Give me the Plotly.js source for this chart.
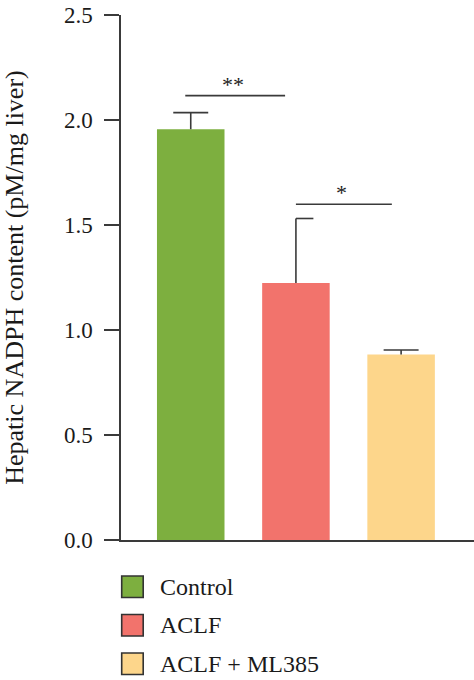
<!DOCTYPE html>
<html>
<head>
<meta charset="utf-8">
<script src="https://cdn.plot.ly/plotly-3.0.1.min.js"></script>
<style>html,body{margin:0;padding:0;background:#fff;}#chart{width:474px;height:680px;}</style>
</head>
<body>
<div id="chart"></div>
<script>
// ---- data ----
const categories = ['Control', 'ACLF', 'ACLF + ML385'];
const values = [1.956, 1.224, 0.883];
const errors = [0.079, 0.307, 0.022];
const barColors = ['#7DAF3F', '#F2736C', '#FDD68B'];
const yTickValues = [0, 0.5, 1.0, 1.5, 2.0, 2.5];
const yTitle = 'Hepatic NADPH content (pM/mg liver)';
const sigPairs = [[0, 1], [1, 2]];
const sigLabels = ['**', '*'];
const sigHeights = [2.116, 1.599];

// ---- layout helpers (pixels) ----
const W = 474, H = 680;
const M = {l: 121, r: 0, t: 15, b: 140};
const plotW = W - M.l - M.r, plotH = H - M.t - M.b;
const fontFam = 'Liberation Serif';
const ink = '#3a3a3a';
const unitPx = 105.3;            // px per category step
const capU = 17.5 / unitPx;      // half cap width in category units
const capSides = [[-1, 1], [0, 1], [-1, 1]]; // middle bar has a one-sided cap

const traces = [{
  type: 'bar',
  x: categories,
  y: values,
  marker: {color: barColors, line: {width: 0}},
  showlegend: false,
  hoverinfo: 'x+y'
}];

const shapes = [];
const annotations = [];

// error bars (upper only) drawn on the data axes
values.forEach((v, i) => {
  const top = v + errors[i];
  shapes.push({type: 'line', xref: 'x', yref: 'y', x0: i, x1: i, y0: v, y1: top,
    line: {color: ink, width: 1.6}});
  shapes.push({type: 'line', xref: 'x', yref: 'y',
    x0: i + capSides[i][0] * capU, x1: i + capSides[i][1] * capU, y0: top, y1: top,
    line: {color: ink, width: 1.6}});
});

// significance brackets
const bracketOffsets = [[-0.052, -0.103], [0.0, -0.088]];
sigPairs.forEach((p, k) => {
  const xa = p[0] + bracketOffsets[k][0];
  const xb = p[1] + bracketOffsets[k][1];
  shapes.push({type: 'line', xref: 'x', yref: 'y', x0: xa, x1: xb,
    y0: sigHeights[k], y1: sigHeights[k], line: {color: ink, width: 1.6}});
  annotations.push({xref: 'x', yref: 'y', x: (xa + xb) / 2 - 0.02, y: sigHeights[k],
    text: sigLabels[k], showarrow: false, xanchor: 'center', yanchor: 'bottom',
    yshift: -3, font: {family: fontFam, size: 22, color: '#222'}});
});

// legend (custom, larger swatches)
const boxPx = 21.5, firstTopPx = 576, stepPx = 38.5, textXPx = 158;
categories.forEach((c, i) => {
  const top = firstTopPx + i * stepPx;
  const yTop = (H - M.b - top) / plotH;
  const yBot = (H - M.b - top - boxPx) / plotH;
  shapes.push({type: 'rect', xref: 'paper', yref: 'paper',
    x0: 0.002, x1: 0.002 + boxPx / plotW, y0: yBot, y1: yTop,
    fillcolor: barColors[i], line: {color: '#333', width: 1.6}});
  annotations.push({xref: 'paper', yref: 'paper', x: (textXPx - M.l) / plotW,
    y: (yTop + yBot) / 2, text: c, showarrow: false, xanchor: 'left', yanchor: 'middle',
    font: {family: fontFam, size: 24, color: '#1a1a1a'}});
});

const layout = {
  width: W, height: H,
  margin: {l: M.l, r: M.r, t: M.t, b: M.b, pad: 0},
  paper_bgcolor: '#fff', plot_bgcolor: '#fff',
  bargap: 0.358,
  showlegend: false,
  font: {family: fontFam, color: '#1a1a1a'},
  xaxis: {type: 'category', categoryorder: 'array', categoryarray: categories,
    range: [-0.663, 2.693], showline: true, linecolor: ink, linewidth: 1.6,
    showticklabels: false, ticks: '', showgrid: false, zeroline: false, fixedrange: true},
  yaxis: {range: [0, 2.5], tickvals: yTickValues, tickformat: '.1f',
    ticks: 'outside', ticklen: 15, tickwidth: 1.6, tickcolor: ink,
    showline: true, linecolor: ink, linewidth: 1.6, showgrid: false, zeroline: false,
    ticklabelstandoff: 7,
    tickfont: {family: fontFam, size: 23, color: '#1a1a1a'},
    title: {text: yTitle, font: {family: fontFam, size: 26, color: '#1a1a1a'}, standoff: 34},
    fixedrange: true},
  shapes: shapes,
  annotations: annotations
};

Plotly.newPlot('chart', traces, layout, {displayModeBar: false, staticPlot: true});
</script>
</body>
</html>
